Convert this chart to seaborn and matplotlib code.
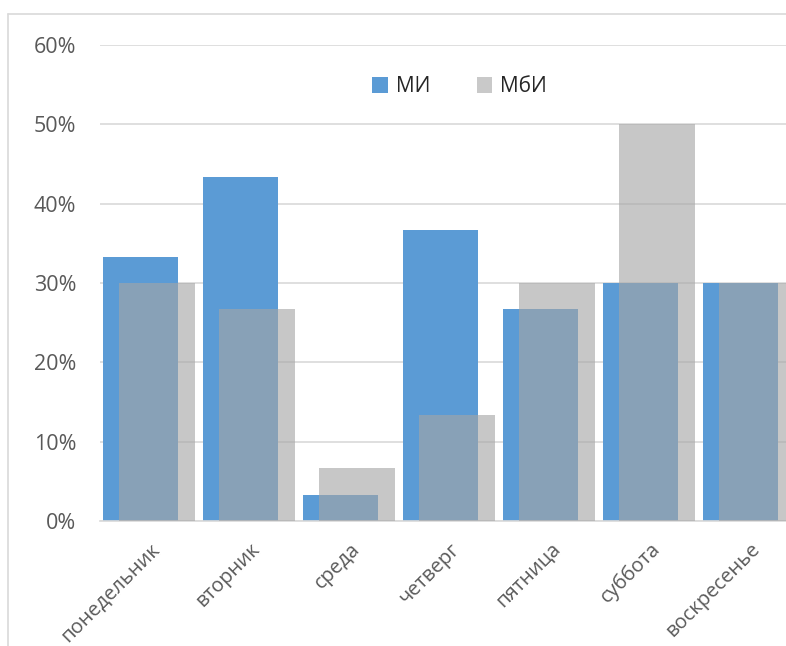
import numpy as np
import pandas as pd
import matplotlib
matplotlib.use("Agg")
import matplotlib.pyplot as plt
from matplotlib.lines import Line2D
from matplotlib.patches import Patch
from matplotlib.ticker import PercentFormatter
import seaborn as sns

days = ["понедельник", "вторник", "среда", "четверг", "пятница", "суббота", "воскресенье"]
mi = [0.333, 0.433, 0.033, 0.367, 0.267, 0.30, 0.30]
mbi = [0.30, 0.267, 0.067, 0.133, 0.30, 0.50, 0.30]
series_names = ["МИ", "МбИ"]
y_ticks = [0.0, 0.1, 0.2, 0.3, 0.4, 0.5, 0.6]

sns.set_theme(style="white")
plt.rcParams["font.family"] = ["Open Sans", "DejaVu Sans"]

blue = "#5B9BD5"
gray = "#A5A5A5"
text_col = "#595959"
grid_col = "#D9D9D9"

fig = plt.figure(figsize=(7.86, 6.46), dpi=100)
W, H = 786, 646
ax = fig.add_axes([100 / W, 125 / H, 700 / W, 476 / H])

pos = np.arange(len(days))
df_mi = pd.DataFrame({"x": pos - 0.095, "v": mi})
df_mbi = pd.DataFrame({"x": pos + 0.07, "v": mbi})

sns.barplot(data=df_mi, x="x", y="v", native_scale=True, width=0.75,
            color=blue, saturation=1, errorbar=None, ax=ax, zorder=2,
            linewidth=0, edgecolor="none")
sns.barplot(data=df_mbi, x="x", y="v", native_scale=True, width=0.76,
            color=gray, saturation=1, alpha=0.62, errorbar=None, ax=ax, zorder=3,
            linewidth=0, edgecolor="none")

ax.set_xlim(-0.5, len(days) - 0.5)
ax.set_ylim(0, 0.6)
ax.set_xticks(pos)
ax.set_xticklabels(days, rotation=45, ha="right", rotation_mode="anchor",
                   fontsize=14.5, color=text_col)
for lbl in ax.get_xticklabels():
    lbl.set_x(lbl.get_position()[0])
ax.set_yticks(y_ticks)
ax.yaxis.set_major_formatter(PercentFormatter(1.0, decimals=0))
ax.tick_params(axis="y", labelsize=15.5, colors=text_col, length=0, pad=17)
ax.tick_params(axis="x", length=0, pad=13)
ax.set_xlabel("")
ax.set_ylabel("")

ax.yaxis.grid(True, color=grid_col, linewidth=1.2, zorder=0)
ax.set_axisbelow(True)
for side in ["top", "right", "left"]:
    ax.spines[side].set_visible(False)
ax.spines["bottom"].set_color(grid_col)
ax.spines["bottom"].set_linewidth(1.2)

handles = [Patch(facecolor=blue, edgecolor="none"),
           Patch(facecolor="#C9C9C9", edgecolor="none")]
leg = ax.legend(handles, series_names, ncol=2, loc="center",
                bbox_to_anchor=(0.514, 0.912), frameon=False,
                handlelength=0.75, handleheight=0.75, handletextpad=0.4,
                columnspacing=2.2, fontsize=15)
for t in leg.get_texts():
    t.set_color("#262626")

# chart-area border
fig.add_artist(Line2D([8 / W, 8 / W], [0, (H - 14) / H], color=grid_col, lw=1.2))
fig.add_artist(Line2D([8 / W, 1], [(H - 14) / H, (H - 14) / H], color=grid_col, lw=1.2))

fig.savefig("out.png", dpi=100, facecolor="white")
